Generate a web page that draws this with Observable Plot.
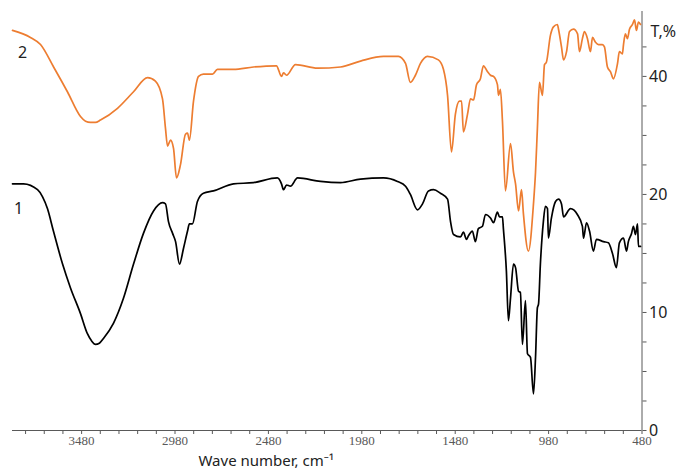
<!DOCTYPE html>
<html><head><meta charset="utf-8">
<script src="https://cdn.jsdelivr.net/npm/d3@7"></script>
<script src="https://cdn.jsdelivr.net/npm/@observablehq/plot@0.6"></script>
<style>body{margin:0;background:#fff}</style>
</head><body><div id="chart"></div>
<script>
// Spectrum 2 (orange)
const wn2 = [3850,3754,3700,3630,3556,3486,3459,3432,3406,3379,3288,3202,3127,3085,3047,3031,3020,3004,2988,2972,2951,2924,2913,2903,2881,2854,2828,2779,2753,2667,2560,2437,2410,2399,2383,2335,2217,2094,1987,1864,1784,1746,1720,1693,1666,1629,1570,1543,1521,1500,1479,1457,1446,1436,1414,1398,1382,1366,1345,1329,1307,1291,1275,1254,1248,1238,1227,1211,1184,1168,1157,1141,1125,1115,1088,1061,1050,1040,1029,1013,1002,992,970,954,933,927,911,900,884,868,847,825,815,799,788,772,756,745,729,713,692,681,665,649,633,611,601,585,579,569,558,547,531,520,510,499,488];
const t2 = [33.9,33.3,32.7,30.8,28.7,26.6,26.2,26.1,26.1,26.3,27.3,28.7,29.9,29.6,28.1,25.6,24.1,24.6,23.9,21.4,22.5,25.1,25.2,24.6,27.9,30.0,30.2,30.2,30.6,30.6,30.8,30.9,30.0,30.3,30.1,31.0,30.7,30.8,31.3,31.7,31.7,31.1,29.5,30.1,31.1,31.7,31.4,30.6,28.4,23.6,26.8,27.9,27.9,25.3,26.8,28.1,28.0,29.3,29.8,30.9,30.4,30.1,30.0,29.3,28.4,28.9,26.2,20.3,24.3,21.9,20.9,18.6,20.4,18.4,15.2,19.2,21.9,25.6,29.5,28.4,31.0,31.2,33.5,34.2,34.4,34.0,32.5,31.4,32.1,33.8,34.0,33.6,32.1,33.2,33.8,33.2,32.1,33.3,32.9,32.7,32.7,32.5,30.8,30.4,29.8,31.1,32.1,31.9,32.7,33.6,33.2,34.0,34.4,34.8,33.9,34.6,34.4];
// Spectrum 1 (black)
const wn1 = [3850,3791,3716,3689,3663,3631,3582,3540,3486,3449,3427,3406,3385,3363,3309,3256,3202,3149,3095,3047,3031,3015,2993,2977,2956,2935,2913,2903,2887,2860,2828,2774,2667,2560,2432,2410,2399,2383,2362,2324,2201,2094,1987,1864,1789,1746,1720,1682,1655,1623,1596,1559,1521,1505,1489,1452,1436,1420,1409,1388,1372,1356,1334,1318,1291,1275,1254,1243,1227,1222,1206,1195,1184,1168,1157,1141,1131,1120,1104,1093,1077,1061,1050,1040,1034,1024,1008,997,986,981,965,943,927,911,900,863,826,799,793,777,761,740,724,686,660,638,617,601,579,563,553,536,526,515,504,499,488];
const t1 = [20.9,20.9,20.4,19.8,18.8,16.9,14.1,12.1,9.9,8.2,7.6,7.3,7.4,7.8,9.1,11.2,14.1,16.7,18.6,19.3,19.2,17.7,16.7,16.0,14.1,15.4,16.9,17.5,17.5,19.4,20.1,20.3,20.9,21.0,21.4,20.9,20.4,20.8,20.7,21.4,21.1,21.0,21.3,21.4,21.1,20.7,20.0,18.7,19.2,20.3,20.4,20.1,19.6,17.7,16.6,16.4,16.8,16.2,16.5,16.9,16.0,17.1,17.3,18.3,18.0,17.6,18.5,18.1,18.1,17.1,13.5,9.3,11.2,14.1,13.8,11.8,11.7,7.3,11.0,6.5,6.2,3.1,6.2,10.4,10.7,14.1,17.7,19.0,18.8,16.3,18.0,19.4,19.6,19.2,18.1,18.8,18.3,17.3,16.3,17.6,16.9,15.2,16.2,16.0,15.9,15.0,13.8,15.9,16.3,15.2,16.0,16.7,17.3,16.6,17.5,15.6,15.6];

const xMajorTicks = [3480, 2980, 2480, 1980, 1480, 980, 480];
const xMinorTicks = d3.range(480, 3850, 100);
const yMinorTicks = d3.range(0, 33, 2.5);
const yTickValues = [0, 10, 20, 30];
const yTickLabels = ["0", "10", "20", "40"];
const yTitle = "T,%";
const xTitle = "Wave number, cm⁻¹";

const s1 = wn1.map((w, i) => ({wn: w, T: t1[i], name: "1"}));
const s2 = wn2.map((w, i) => ({wn: w, T: t2[i], name: "2"}));

const chart = Plot.plot({
  width: 678, height: 476,
  marginLeft: 12, marginRight: 36.5, marginTop: 11, marginBottom: 46,
  x: {domain: [3850, 480]},
  y: {domain: [0, 35.5]},
  style: {background: "#fff", overflow: "visible"},
  marks: [
    Plot.axisX({ticks: xMinorTicks, tickFormat: () => "", tickSize: 4, stroke: "#595959", label: null}),
    Plot.axisX({ticks: xMajorTicks, tickFormat: d => String(d), tickSize: 0, tickPadding: 5, fontFamily: "Liberation Serif", fontSize: 13, fill: "#595959", label: null}),
    Plot.axisY({anchor: "right", ticks: yMinorTicks, tickFormat: () => "", tickSize: 4, stroke: "#595959", label: null}),
    Plot.axisY({anchor: "right", ticks: yTickValues, tickFormat: d => yTickLabels[yTickValues.indexOf(d)], tickSize: 0, tickPadding: 7, fontSize: 16, fontFamily: "Noto Sans", fill: "#222", label: null}),
    Plot.ruleY([0], {stroke: "#595959"}),
    Plot.ruleX([480], {stroke: "#595959"}),
    Plot.line(s2, {x: "wn", y: "T", stroke: "#ED7D31", strokeWidth: 1.7, curve: "monotone-x"}),
    Plot.line(s1, {x: "wn", y: "T", stroke: "#000", strokeWidth: 1.7, curve: "monotone-x"}),
    Plot.text([s2[0]], {x: "wn", y: "T", text: "name", dx: 10, dy: 22, fontSize: 16, fontFamily: "Noto Sans", fill: "#222"}),
    Plot.text([s1[0]], {x: "wn", y: "T", text: "name", dx: 6, dy: 25, fontSize: 16, fontFamily: "Noto Sans", fill: "#222"}),
    Plot.text([yTitle], {frameAnchor: "top-right", dx: 8.5, dy: 14, textAnchor: "start", fontSize: 16, fontFamily: "Noto Sans", fill: "#222"}),
    Plot.text([xTitle], {frameAnchor: "bottom", dx: -61, dy: 35, fontSize: 15, fontFamily: "Noto Sans", fill: "#222"})
  ]
});
document.getElementById("chart").appendChild(chart);
</script>
</body></html>
